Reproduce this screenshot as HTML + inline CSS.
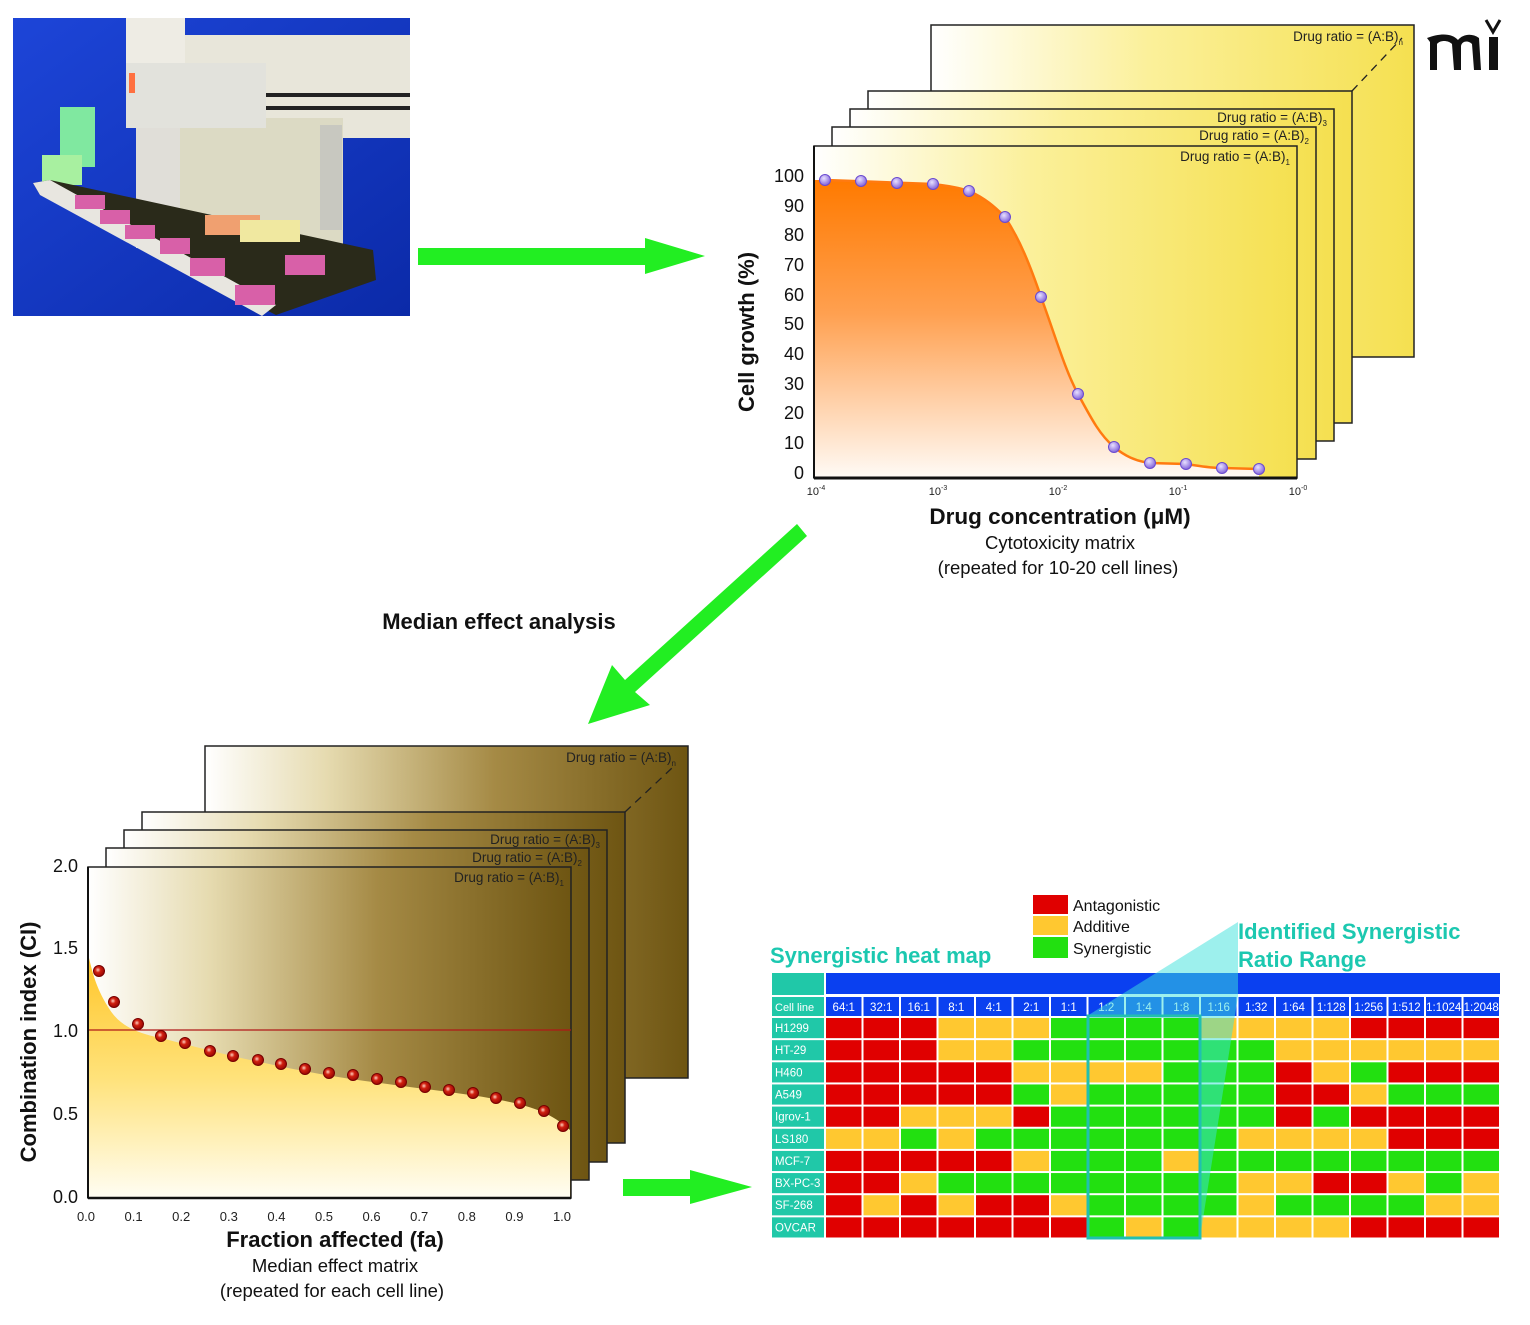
<!DOCTYPE html>
<html><head><meta charset="utf-8"><style>
html,body{margin:0;padding:0;background:#fff}
svg{display:block}
text{font-family:"Liberation Sans",Arial,sans-serif}
</style></head><body>
<svg id="s" width="1530" height="1325" viewBox="0 0 1530 1325" xmlns="http://www.w3.org/2000/svg">
<defs>
<linearGradient id="yel" x1="0" y1="0" x2="1" y2="0"><stop offset="0" stop-color="#fff"/><stop offset="0.45" stop-color="#fbf09a"/><stop offset="1" stop-color="#f5e050"/></linearGradient>
<linearGradient id="org" x1="0" y1="0" x2="0" y2="1"><stop offset="0" stop-color="#ff7a00"/><stop offset="0.45" stop-color="#ffa050"/><stop offset="1" stop-color="#fffaf5"/></linearGradient>
<linearGradient id="olv" x1="0" y1="0" x2="1" y2="0"><stop offset="0" stop-color="#fff"/><stop offset="0.25" stop-color="#e6dbb0"/><stop offset="0.6" stop-color="#a58a45"/><stop offset="1" stop-color="#6e5512"/></linearGradient>
<linearGradient id="ylf" x1="0" y1="0" x2="0" y2="1"><stop offset="0" stop-color="#ffc62a"/><stop offset="0.5" stop-color="#ffe27a"/><stop offset="1" stop-color="#fffdf2"/></linearGradient>
<linearGradient id="blu" x1="0" y1="0" x2="1" y2="1"><stop offset="0" stop-color="#1d45d8"/><stop offset="1" stop-color="#0b2aa8"/></linearGradient>
<radialGradient id="pur" cx="0.4" cy="0.35" r="0.7"><stop offset="0" stop-color="#e8e0ff"/><stop offset="1" stop-color="#7a5ad8"/></radialGradient>
<radialGradient id="red" cx="0.4" cy="0.4" r="0.7"><stop offset="0" stop-color="#ffd0c0"/><stop offset="0.35" stop-color="#d02010"/><stop offset="1" stop-color="#8a0000"/></radialGradient>
</defs>

<!-- Photo -->
<rect x="13" y="18" width="397" height="298" fill="url(#blu)"/>
<rect x="185" y="35" width="225" height="103" fill="#e8e6da"/>
<rect x="252" y="93" width="158" height="4" fill="#222"/>
<rect x="252" y="106" width="158" height="4" fill="#222"/>
<rect x="180" y="118" width="163" height="127" fill="#dcdac4"/>
<rect x="320" y="125" width="22" height="105" fill="#c8c8c0"/>
<rect x="126" y="18" width="59" height="110" fill="#eeece4"/>
<rect x="126" y="63" width="140" height="65" fill="#e2e2dc"/>
<rect x="129" y="73" width="6" height="20" fill="#ff7040"/>
<rect x="136" y="128" width="44" height="120" fill="#e0ded8"/>
<rect x="60" y="107" width="35" height="60" fill="#80e8a0"/>
<rect x="42" y="155" width="40" height="30" fill="#a8f0a0"/>
<polygon points="33,183 50,180 373,250 376,280 276,315 40,195" fill="#2a2a1a"/>
<polygon points="33,183 50,180 276,305 262,316 40,195" fill="#e8e6e0"/>
<g fill="#d860a8">
<rect x="75" y="195" width="30" height="14"/><rect x="100" y="210" width="30" height="14"/><rect x="125" y="225" width="30" height="14"/>
<rect x="160" y="238" width="30" height="16"/><rect x="190" y="258" width="35" height="18"/><rect x="235" y="285" width="40" height="20"/>
<rect x="285" y="255" width="40" height="20"/>
</g>
<rect x="205" y="215" width="55" height="20" fill="#f0a070"/>
<rect x="240" y="220" width="60" height="22" fill="#f0e8a0"/>

<!-- Arrow 1 -->
<polygon points="418,248 645,248 645,238 705,256 645,274 645,265 418,265" fill="#22ee22"/>

<!-- Top chart panels -->
<g stroke="#222" stroke-width="1.5" fill="url(#yel)">
<rect x="931" y="25" width="483" height="332"/>
<rect x="868" y="91" width="484" height="332"/>
<rect x="850" y="109" width="484" height="332"/>
<rect x="832" y="127" width="484" height="332"/>
<rect x="814" y="146" width="483" height="332"/>
</g>
<line x1="1352" y1="91" x2="1402" y2="38" stroke="#222" stroke-width="1.3" stroke-dasharray="8,6"/>
<g font-size="13.5" fill="#222" text-anchor="end">
<text x="1403" y="41">Drug ratio = (A:B)<tspan font-size="8" dy="4">n</tspan></text>
<text x="1327" y="122">Drug ratio = (A:B)<tspan font-size="8" dy="4">3</tspan></text>
<text x="1309" y="140">Drug ratio = (A:B)<tspan font-size="8" dy="4">2</tspan></text>
<text x="1290" y="161">Drug ratio = (A:B)<tspan font-size="8" dy="4">1</tspan></text>
</g>
<path d="M815,180 L825,180 C860,181 900,183 933,184 C950,186 960,188 969,191 C985,198 995,207 1005,217 C1020,240 1030,265 1041,297 C1055,335 1065,370 1078,394 C1092,420 1100,435 1114,447 C1125,456 1135,461 1150,463 L1186,464 C1200,466 1210,468 1222,468 L1259,469 L1259,477 L815,477 Z" fill="url(#org)"/>
<path d="M825,180 C860,181 900,183 933,184 C950,186 960,188 969,191 C985,198 995,207 1005,217 C1020,240 1030,265 1041,297 C1055,335 1065,370 1078,394 C1092,420 1100,435 1114,447 C1125,456 1135,461 1150,463 L1186,464 C1200,466 1210,468 1222,468 L1259,469" fill="none" stroke="#ff7a10" stroke-width="2.5"/>
<line x1="814" y1="478" x2="1297" y2="478" stroke="#111" stroke-width="3"/>
<line x1="814" y1="146" x2="814" y2="478" stroke="#111" stroke-width="2"/>
<g id="tp"></g>
<g font-size="18" fill="#111" text-anchor="end">
<text x="804" y="182">100</text><text x="804" y="212">90</text><text x="804" y="241">80</text><text x="804" y="271">70</text><text x="804" y="301">60</text><text x="804" y="330">50</text><text x="804" y="360">40</text><text x="804" y="390">30</text><text x="804" y="419">20</text><text x="804" y="449">10</text><text x="804" y="479">0</text>
</g>
<g font-size="11" fill="#222" text-anchor="middle">
<text x="816" y="495">10<tspan font-size="7" dy="-5">-4</tspan></text>
<text x="938" y="495">10<tspan font-size="7" dy="-5">-3</tspan></text>
<text x="1058" y="495">10<tspan font-size="7" dy="-5">-2</tspan></text>
<text x="1178" y="495">10<tspan font-size="7" dy="-5">-1</tspan></text>
<text x="1298" y="495">10<tspan font-size="7" dy="-5">-0</tspan></text>
</g>
<text transform="translate(754,332) rotate(-90)" font-size="22" font-weight="bold" text-anchor="middle" fill="#111">Cell growth (%)</text>
<text x="1060" y="524" font-size="22.5" font-weight="bold" text-anchor="middle" fill="#111">Drug concentration (μM)</text>
<text x="1060" y="549" font-size="18.5" text-anchor="middle" fill="#111">Cytotoxicity matrix</text>
<text x="1058" y="574" font-size="18.5" text-anchor="middle" fill="#111">(repeated for 10-20 cell lines)</text>

<!-- mi logo -->
<g fill="#111">
<path d="M1427,38 C1440,33 1452,33 1458,40 C1463,34 1472,33 1479,38 L1481,70 L1474,70 L1472,44 C1468,40 1462,41 1461,46 L1461,70 L1454,70 L1452,44 C1448,40 1440,40 1437,44 L1437,70 L1430,70 L1430,42 Z"/>
<rect x="1489" y="37" width="9" height="33"/>
<path d="M1486,20 L1493,32 L1500,20" fill="none" stroke="#111" stroke-width="3"/>
</g>

<!-- Arrow 2 diagonal -->
<polygon points="797,524 807,536 635,692 650,705 588,724 612,665 625,680" fill="#22ee22"/>
<text x="499" y="629" font-size="22" font-weight="bold" text-anchor="middle" fill="#111">Median effect analysis</text>

<!-- Bottom chart panels -->
<g stroke="#222" stroke-width="1.5" fill="url(#olv)">
<rect x="205" y="746" width="483" height="332"/>
<rect x="142" y="812" width="483" height="331"/>
<rect x="124" y="830" width="483" height="332"/>
<rect x="106" y="848" width="483" height="332"/>
<rect x="88" y="867" width="483" height="331"/>
</g>
<line x1="625" y1="812" x2="672" y2="768" stroke="#222" stroke-width="1.3" stroke-dasharray="8,6"/>
<g font-size="13.5" fill="#222" text-anchor="end">
<text x="676" y="762">Drug ratio = (A:B)<tspan font-size="8" dy="4">n</tspan></text>
<text x="600" y="844">Drug ratio = (A:B)<tspan font-size="8" dy="4">3</tspan></text>
<text x="582" y="862">Drug ratio = (A:B)<tspan font-size="8" dy="4">2</tspan></text>
<text x="564" y="882">Drug ratio = (A:B)<tspan font-size="8" dy="4">1</tspan></text>
</g>
<path d="M89,958 C93,975 97,990 110,1010 C120,1025 135,1033 161,1038 C200,1048 230,1056 260,1062 C300,1071 340,1078 380,1083 C430,1090 470,1094 500,1100 C530,1106 550,1112 570,1130 L570,1197 L89,1197 Z" fill="url(#ylf)"/>
<line x1="89" y1="1030" x2="571" y2="1030" stroke="#b01818" stroke-width="1.2"/>
<line x1="88" y1="1198" x2="571" y2="1198" stroke="#111" stroke-width="2.5"/>
<line x1="88" y1="867" x2="88" y2="1198" stroke="#111" stroke-width="2"/>
<g id="bp"></g>
<g font-size="18" fill="#111" text-anchor="end">
<text x="78" y="872">2.0</text><text x="78" y="954">1.5</text><text x="78" y="1037">1.0</text><text x="78" y="1120">0.5</text><text x="78" y="1203">0.0</text>
</g>
<g id="bx" font-size="13" fill="#222" text-anchor="middle"></g>
<text transform="translate(36,1042) rotate(-90)" font-size="22" font-weight="bold" text-anchor="middle" fill="#111">Combination index (CI)</text>
<text x="335" y="1247" font-size="22" font-weight="bold" text-anchor="middle" fill="#111">Fraction affected (fa)</text>
<text x="335" y="1272" font-size="18.5" text-anchor="middle" fill="#111">Median effect matrix</text>
<text x="332" y="1297" font-size="18.5" text-anchor="middle" fill="#111">(repeated for each cell line)</text>

<!-- Arrow 3 -->
<polygon points="623,1179 690,1179 690,1170 752,1187 690,1204 690,1196 623,1196" fill="#22ee22"/>

<!-- Heatmap -->
<rect x="1033" y="895" width="35" height="19" fill="#e00000"/>
<rect x="1033" y="916" width="35" height="19" fill="#ffc830"/>
<rect x="1033" y="937" width="35" height="21" fill="#22e010"/>
<g font-size="16" fill="#111">
<text x="1073" y="911">Antagonistic</text><text x="1073" y="932">Additive</text><text x="1073" y="954">Synergistic</text>
</g>
<text x="770" y="963" font-size="22" font-weight="bold" fill="#1cc8b0">Synergistic heat map</text>
<text x="1238" y="939" font-size="22" font-weight="bold" fill="#1cc8b0">Identified Synergistic</text>
<text x="1238" y="967" font-size="22" font-weight="bold" fill="#1cc8b0">Ratio Range</text>
<rect x="772" y="973" width="52" height="22" fill="#20c8a8"/>
<rect x="826" y="973" width="674" height="21" fill="#0a40f0"/>
<g id="hm"></g>
<polygon points="1087,1016 1238,922 1238,996 1200,1238 1200,1016" fill="rgba(60,225,220,0.5)"/>
<rect x="1088" y="1016" width="112" height="222" fill="none" stroke="#20c0b0" stroke-width="3"/>
</svg>
<script>
var NS="http://www.w3.org/2000/svg";
function el(p,t,a,txt){var e=document.createElementNS(NS,t);for(var k in a)e.setAttribute(k,a[k]);if(txt)e.textContent=txt;p.appendChild(e);return e;}
var tp=document.getElementById("tp");
[[825,180],[861,181],[897,183],[933,184],[969,191],[1005,217],[1041,297],[1078,394],[1114,447],[1150,463],[1186,464],[1222,468],[1259,469]].forEach(function(p){el(tp,"circle",{cx:p[0],cy:p[1],r:5.5,fill:"url(#pur)",stroke:"#6a4ad0","stroke-width":1});});
var bp=document.getElementById("bp");
var xs=[99,114,138,161,185,210,233,258,281,305,329,353,377,401,425,449,473,496,520,544,563];
var ys=[971,1002,1024,1036,1043,1051,1056,1060,1064,1069,1073,1075,1079,1082,1087,1090,1093,1098,1103,1111,1126];
xs.forEach(function(x,i){el(bp,"circle",{cx:x,cy:ys[i],r:5.5,fill:"url(#red)",stroke:"#700","stroke-width":1});});
var bx=document.getElementById("bx");
for(var i=0;i<=10;i++){el(bx,"text",{x:86+i*47.6,y:1221},(i/10).toFixed(1));}
var hm=document.getElementById("hm");
var cols=["64:1","32:1","16:1","8:1","4:1","2:1","1:1","1:2","1:4","1:8","1:16","1:32","1:64","1:128","1:256","1:512","1:1024","1:2048"];
var rows=[["H1299","RRRYYYGGGGYYYYRRRR"],["HT-29","RRRYYGGGGGGGYYYYYY"],["H460","RRRRRYYYYGGGRYGRRR"],["A549","RRRRRGYGGGGGRRYGGG"],["Igrov-1","RRYYYRGGGGGGRGRRRR"],["LS180","YYGYGGGGGGGYYYYRRR"],["MCF-7","RRRRRYGGGYGGGGGGGG"],["BX-PC-3","RRYGGGGGGGGYYRRYGY"],["SF-268","RYRYRRYGGGGYGGGGYY"],["OVCAR","RRRRRRRGYGYYYYRRRR"]];
var C={R:"#e00000",Y:"#ffc830",G:"#22e010"};
var x0=825,cw=37.5;
el(hm,"rect",{x:772,y:997,width:52,height:19,fill:"#20c8a8"});
el(hm,"text",{x:775,y:1011,"font-size":11,fill:"#fff"},"Cell line");
cols.forEach(function(c,j){el(hm,"rect",{x:x0+j*cw+1,y:997,width:cw-2,height:19,fill:"#0a40f0"});el(hm,"text",{x:x0+j*cw+cw/2,y:1011,"font-size":11.5,fill:"#fff","text-anchor":"middle"},c);});
var rh=22.15;
rows.forEach(function(r,i){var y=1017+i*rh;
el(hm,"rect",{x:772,y:y+1,width:52,height:rh-2,fill:"#20c8a8"});
el(hm,"text",{x:775,y:y+15,"font-size":11.5,fill:"#fff"},r[0]);
for(var j=0;j<18;j++)el(hm,"rect",{x:x0+j*cw+1,y:y+1,width:cw-2,height:rh-2,fill:C[r[1][j]]});});
</script>
</body></html>
